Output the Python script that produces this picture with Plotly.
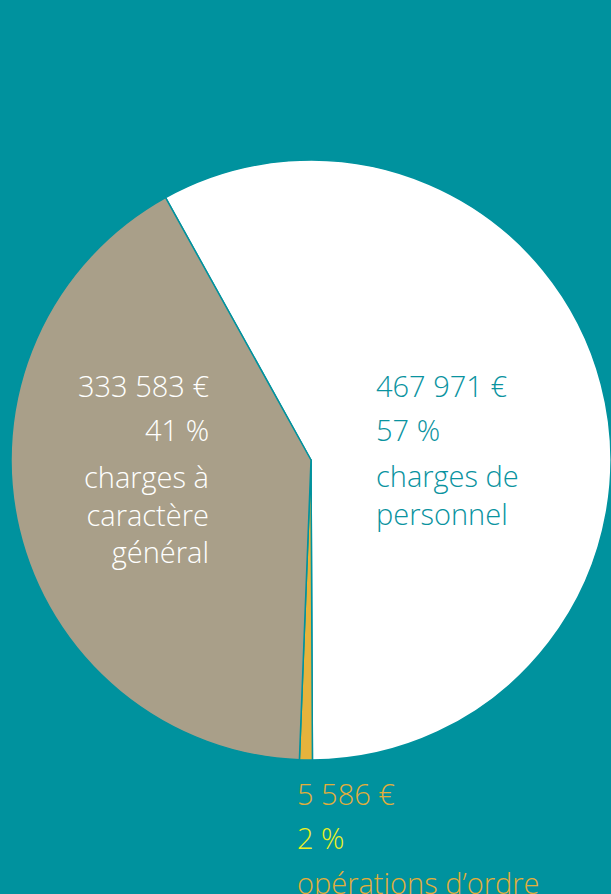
import plotly.graph_objects as go

# ---- data ----
categories = ["charges de personnel", "opérations d’ordre", "charges à caractère général"]
values = [467971, 5586, 333583]
value_texts = ["467 971 €", "5 586 €", "333 583 €"]
pct_texts = ["57 %", "2 %", "41 %"]
name_texts = ["charges de<br>personnel", "opérations d’ordre", "charges à<br>caractère<br>général"]

# ---- styles ----
BG = "#00929E"
slice_colors = ["#FFFFFF", "#E6B33C", "#A99F89"]
W, H = 611, 894
FONT = "Open Sans"
FS = 29

fig = go.Figure()
fig.add_trace(go.Pie(
    labels=categories, values=values, sort=False, direction="clockwise",
    rotation=-29, marker=dict(colors=slice_colors, line=dict(color=BG, width=1.5)),
    textinfo="none", hoverinfo="skip", showlegend=False,
    domain=dict(x=[11 / W, 1], y=[1 - 760 / H, 1 - 160 / H]),
))

# label layout: x pixel, anchor, y pixels of value / pct / first name line, colours
label_layout = {
    0: dict(x=374, anchor="left", ys=(385, 430, 476), colors=("#0A939F", "#0A939F", "#0A939F")),
    1: dict(x=295, anchor="left", ys=(793, 837, 882), colors=("#E3AE3A", "#EEF01E", "#E3AE3A")),
    2: dict(x=211, anchor="right", ys=(385, 430, 476), colors=("#FFFFFF", "#FFFFFF", "#FFFFFF")),
}
LH = FS * 1.3
anns = []


def add(text, xp, yp, anchor, col):
    nlines = text.count("<br>") + 1
    ymid = yp + (nlines - 1) * LH / 2
    anns.append(dict(
        text=text, x=xp / W, y=1 - ymid / H, xref="paper", yref="paper",
        xanchor=anchor, yanchor="middle", align=anchor, showarrow=False,
        font=dict(family=FONT, size=FS, color=col, weight=300),
    ))


for i in range(len(categories)):
    lay = label_layout[i]
    add(value_texts[i], lay["x"], lay["ys"][0], lay["anchor"], lay["colors"][0])
    add(pct_texts[i], lay["x"], lay["ys"][1], lay["anchor"], lay["colors"][1])
    add(name_texts[i], lay["x"], lay["ys"][2], lay["anchor"], lay["colors"][2])

fig.update_layout(
    width=W, height=H, paper_bgcolor=BG, plot_bgcolor=BG,
    margin=dict(l=0, r=0, t=0, b=0), annotations=anns,
)
fig.write_html("out.html", config={"displayModeBar": False})

# remove the default page margin so the figure fills the window
with open("out.html", encoding="utf-8") as f:
    html = f.read()
html = html.replace("<head>", "<head><style>html,body{margin:0;padding:0;background:%s;overflow:hidden}</style>" % BG, 1)
with open("out.html", "w", encoding="utf-8") as f:
    f.write(html)
